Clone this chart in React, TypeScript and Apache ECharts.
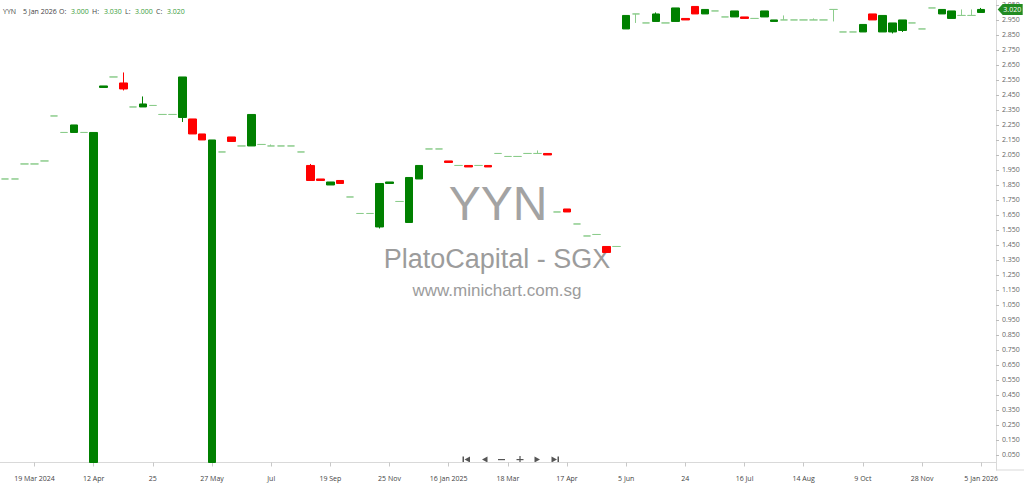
import { useEffect, useRef } from 'react';
import * as echarts from 'echarts';

// trading days (the stock trades rarely, so the axis only holds days with a trade)
const dates = [
  '2024-03-05', '2024-03-08', '2024-03-13', '2024-03-19', '2024-03-21', '2024-03-26', '2024-04-01', '2024-04-04', '2024-04-09', '2024-04-12',
  '2024-04-15', '2024-04-17', '2024-04-19', '2024-04-22', '2024-04-23', '2024-04-25', '2024-04-30', '2024-05-06', '2024-05-10', '2024-05-15',
  '2024-05-21', '2024-05-27', '2024-05-30', '2024-06-05', '2024-06-11', '2024-06-18', '2024-06-25', '2024-07-01', '2024-07-15', '2024-07-31',
  '2024-08-15', '2024-08-28', '2024-09-05', '2024-09-19', '2024-09-30', '2024-10-09', '2024-10-21', '2024-11-01', '2024-11-13', '2024-11-25',
  '2024-12-04', '2024-12-13', '2024-12-23', '2025-01-02', '2025-01-09', '2025-01-16', '2025-01-24', '2025-02-05', '2025-02-17', '2025-02-27',
  '2025-03-07', '2025-03-18', '2025-03-24', '2025-03-28', '2025-04-03', '2025-04-09', '2025-04-14', '2025-04-17', '2025-04-24', '2025-05-02',
  '2025-05-13', '2025-05-22', '2025-05-29', '2025-06-05', '2025-06-09', '2025-06-11', '2025-06-13', '2025-06-17', '2025-06-20', '2025-06-24',
  '2025-06-26', '2025-06-30', '2025-07-03', '2025-07-08', '2025-07-11', '2025-07-16', '2025-07-21', '2025-07-25', '2025-07-30', '2025-08-04',
  '2025-08-07', '2025-08-14', '2025-08-22', '2025-09-01', '2025-09-10', '2025-09-19', '2025-09-29', '2025-10-09', '2025-10-16', '2025-10-24',
  '2025-11-03', '2025-11-12', '2025-11-20', '2025-11-28', '2025-12-05', '2025-12-12', '2025-12-18', '2025-12-24', '2025-12-31', '2026-01-05',
];

const opens = [
  1.89, 1.89, 1.99, 1.99, 2.01, 2.31, 2.20, 2.20, 2.20, 0,
  2.50, 2.57, 2.53, 2.37, 2.37, 2.38, 2.32, 2.32, 2.30, 2.29,
  2.19, 0, 2.07, 2.17, 2.11, 2.11, 2.12, 2.11, 2.11, 2.11,
  2.07, 1.98, 1.89, 1.85, 1.88, 1.77, 1.66, 1.66, 1.57, 1.86,
  1.74, 1.60, 1.89, 2.09, 2.09, 2.01, 1.98, 1.98, 1.98, 1.98,
  2.06, 2.04, 2.04, 2.06, 2.06, 2.06, 1.67, 1.69, 1.59, 1.51,
  1.52, 1.44, 1.44, 2.89, 2.99, 2.93, 2.94, 2.93, 2.94, 2.96,
  3.04, 2.99, 3.01, 2.97, 2.97, 2.97, 2.96, 2.97, 2.94, 2.95,
  2.95, 2.95, 2.95, 2.95, 3.02, 2.87, 2.87, 2.87, 2.99, 2.87,
  2.87, 2.88, 2.93, 2.89, 3.03, 2.99, 2.96, 2.98, 2.98, 3.00,
];
const closes = [
  1.89, 1.89, 1.99, 1.99, 2.01, 2.31, 2.20, 2.25, 2.20, 2.20,
  2.51, 2.57, 2.49, 2.37, 2.39, 2.38, 2.32, 2.32, 2.57, 2.19,
  2.15, 2.15, 2.07, 2.14, 2.11, 2.32, 2.12, 2.11, 2.11, 2.11,
  2.07, 1.88, 1.88, 1.87, 1.86, 1.77, 1.66, 1.66, 1.86, 1.87,
  1.74, 1.90, 1.98, 2.09, 2.09, 2.00, 1.98, 1.97, 1.98, 1.97,
  2.06, 2.04, 2.04, 2.06, 2.06, 2.05, 1.67, 1.67, 1.59, 1.51,
  1.52, 1.40, 1.44, 2.98, 2.99, 2.93, 2.99, 2.93, 3.03, 2.95,
  2.99, 3.02, 3.01, 2.97, 3.01, 2.96, 2.96, 3.01, 2.95, 2.95,
  2.95, 2.95, 2.95, 2.95, 3.02, 2.87, 2.87, 2.92, 2.95, 2.98,
  2.93, 2.95, 2.93, 2.89, 3.03, 3.02, 3.01, 2.98, 2.98, 3.02,
];
const lows = [
  1.89, 1.89, 1.99, 1.99, 2.01, 2.31, 2.20, 2.20, 2.20, 0,
  2.50, 2.57, 2.48, 2.37, 2.37, 2.38, 2.32, 2.32, 2.27, 2.19,
  2.15, 0, 2.07, 2.14, 2.11, 2.11, 2.12, 2.11, 2.11, 2.11,
  2.07, 1.88, 1.88, 1.85, 1.86, 1.77, 1.66, 1.66, 1.56, 1.86,
  1.74, 1.60, 1.89, 2.09, 2.09, 2.00, 1.98, 1.97, 1.98, 1.97,
  2.06, 2.04, 2.04, 2.06, 2.06, 2.05, 1.67, 1.67, 1.59, 1.51,
  1.52, 1.40, 1.44, 2.89, 2.93, 2.93, 2.94, 2.93, 2.94, 2.95,
  2.99, 2.99, 3.01, 2.97, 2.97, 2.96, 2.96, 2.97, 2.94, 2.95,
  2.95, 2.95, 2.95, 2.95, 2.94, 2.87, 2.87, 2.87, 2.95, 2.87,
  2.86, 2.87, 2.93, 2.89, 3.03, 2.99, 2.96, 2.98, 2.98, 3.00,
];
const highs = [
  1.89, 1.89, 1.99, 1.99, 2.01, 2.31, 2.20, 2.25, 2.20, 2.20,
  2.51, 2.57, 2.60, 2.37, 2.44, 2.38, 2.32, 2.32, 2.57, 2.29,
  2.19, 2.15, 2.07, 2.17, 2.11, 2.32, 2.12, 2.12, 2.11, 2.11,
  2.07, 1.99, 1.89, 1.87, 1.88, 1.77, 1.66, 1.66, 1.86, 1.87,
  1.74, 1.90, 1.98, 2.09, 2.09, 2.01, 1.98, 1.98, 1.98, 1.98,
  2.06, 2.04, 2.04, 2.06, 2.08, 2.06, 1.67, 1.69, 1.59, 1.51,
  1.52, 1.44, 1.44, 2.98, 2.99, 2.93, 3.00, 2.93, 3.03, 2.96,
  3.04, 3.02, 3.01, 2.97, 3.01, 2.97, 2.96, 3.01, 2.95, 2.98,
  2.95, 2.95, 2.96, 2.95, 3.02, 2.87, 2.87, 2.92, 2.99, 2.98,
  2.93, 2.95, 2.93, 2.89, 3.03, 3.02, 3.01, 3.02, 3.02, 3.03,
];

// dates that get a label on the time axis
const tickLabels: Record<string, string> = {
  '2024-03-19': '19 Mar 2024',
  '2024-04-12': '12 Apr',
  '2024-04-25': '25',
  '2024-05-27': '27 May',
  '2024-07-01': 'Jul',
  '2024-09-19': '19 Sep',
  '2024-11-25': '25 Nov',
  '2025-01-16': '16 Jan 2025',
  '2025-03-18': '18 Mar',
  '2025-04-17': '17 Apr',
  '2025-06-05': '5 Jun',
  '2025-06-24': '24',
  '2025-07-16': '16 Jul',
  '2025-08-14': '14 Aug',
  '2025-10-09': '9 Oct',
  '2025-11-28': '28 Nov',
  '2026-01-05': '5 Jan 2026',
};

const ticker = 'YYN';
const exchange = 'PlatoCapital - SGX';
const site = 'www.minichart.com.sg';

const UP = '#008000';
const DOWN = '#ff0000';
const DOJI = '#8ccc8c';
const SMALL = '"Open Sans", "Noto Sans", sans-serif';
const WATERMARK = '"Liberation Sans", Arial, sans-serif';

export default function App() {
  const chartRef = useRef<HTMLDivElement>(null);

  useEffect(() => {
    const chart = echarts.init(chartRef.current, null, { renderer: 'svg' });
    const last = closes.length - 1;
    const candles = opens.map((o, i) => [o, closes[i], lows[i], highs[i]]);
    // one empty slot after the last session
    const categories = [...dates, ''];
    const showTick = (_i: number, v: string) => v in tickLabels;

    const header: [string, number, string][] = [
      [ticker, 3, '#444'],
      [tickLabels[dates[last]] ?? dates[last], 23, '#444'],
      ['O:', 59, '#444'],
      [opens[last].toFixed(3), 71, '#3a9d3a'],
      ['H:', 92, '#444'],
      [highs[last].toFixed(3), 104, '#3a9d3a'],
      ['L:', 125, '#444'],
      [lows[last].toFixed(3), 135, '#3a9d3a'],
      ['C:', 156, '#444'],
      [closes[last].toFixed(3), 167, '#3a9d3a'],
    ];

    const nav = { fill: '#555' };

    const option = {
      animation: false,
      backgroundColor: '#fff',
      textStyle: { fontFamily: SMALL },
      grid: { left: 0, right: 28, top: 0, bottom: 14 },
      xAxis: {
        type: 'category',
        data: categories,
        boundaryGap: true,
        axisLine: { show: true, lineStyle: { color: '#d9d9d9' } },
        axisTick: { show: true, alignWithLabel: true, interval: showTick, length: 4, lineStyle: { color: '#c8c8c8' } },
        axisLabel: {
          interval: showTick,
          formatter: (v: string) => tickLabels[v] ?? '',
          fontSize: 7,
          color: '#444',
          margin: 5,
        },
        splitLine: { show: false },
      },
      yAxis: {
        type: 'value',
        position: 'right',
        min: -0.05,
        max: 3.083,
        interval: 0.1,
        axisLine: { show: true, lineStyle: { color: '#d9d9d9' } },
        axisTick: { show: true, length: 3, lineStyle: { color: '#bbb' } },
        axisLabel: {
          fontSize: 7,
          color: '#666',
          margin: 6,
          showMinLabel: false,
          showMaxLabel: false,
          formatter: (v: number) => v.toFixed(3),
        },
        splitLine: { show: false },
      },
      graphic: [
        {
          type: 'text', x: 498, y: 203, z: 0,
          style: { text: ticker, fill: '#a3a3a3', fontSize: 48, fontFamily: WATERMARK, align: 'center', verticalAlign: 'middle' },
        },
        {
          type: 'text', x: 497, y: 259, z: 0,
          style: { text: exchange, fill: '#9c9c9c', fontSize: 27, fontFamily: WATERMARK, align: 'center', verticalAlign: 'middle' },
        },
        {
          type: 'text', x: 497, y: 290, z: 0,
          style: { text: site, fill: '#9c9c9c', fontSize: 17, fontFamily: WATERMARK, align: 'center', verticalAlign: 'middle' },
        },
        ...header.map(([text, x, fill]) => ({
          type: 'text', x, y: 11,
          style: { text, fill, fontSize: 7, fontFamily: SMALL, verticalAlign: 'middle' },
        })),
        // time axis line runs on under the price scale
        { type: 'line', shape: { x1: 996, y1: 470, x2: 1024, y2: 470 }, style: { stroke: '#d9d9d9', lineWidth: 1 } },
        // navigation buttons
        { type: 'rect', shape: { x: 462.5, y: 456.5, width: 1.5, height: 6 }, style: nav },
        { type: 'polygon', shape: { points: [[470, 456.5], [470, 462.5], [464.5, 459.5]] }, style: nav },
        { type: 'polygon', shape: { points: [[487.5, 456.5], [487.5, 462.5], [482, 459.5]] }, style: nav },
        { type: 'rect', shape: { x: 498, y: 459, width: 7, height: 1.2 }, style: nav },
        { type: 'rect', shape: { x: 516.5, y: 459, width: 7, height: 1.2 }, style: nav },
        { type: 'rect', shape: { x: 519.4, y: 456, width: 1.2, height: 7 }, style: nav },
        { type: 'polygon', shape: { points: [[534.5, 456.5], [534.5, 462.5], [540, 459.5]] }, style: nav },
        { type: 'polygon', shape: { points: [[551.5, 456.5], [551.5, 462.5], [557, 459.5]] }, style: nav },
        { type: 'rect', shape: { x: 557.5, y: 456.5, width: 1.5, height: 6 }, style: nav },
      ],
      series: [
        {
          type: 'candlestick',
          data: candles,
          barWidth: 8,
          itemStyle: {
            color: UP,
            color0: DOWN,
            borderColor: UP,
            borderColor0: DOWN,
            borderColorDoji: DOJI,
            borderWidth: 1,
          },
          markPoint: {
            silent: true,
            symbol: 'path://M0,6L6,0L30,0L30,12L6,12Z',
            symbolSize: [25, 11],
            symbolOffset: [29, 0],
            itemStyle: { color: '#228b22' },
            label: {
              show: true,
              formatter: closes[last].toFixed(3),
              color: '#fff',
              fontSize: 7,
              fontFamily: SMALL,
              offset: [2, 0],
            },
            data: [{ coord: [last, closes[last]], value: closes[last] }],
          },
        },
      ],
    };

    chart.setOption(option);
    return () => {
      chart.dispose();
    };
  }, []);

  return <div ref={chartRef} style={{ position: 'fixed', left: 0, top: 0, width: 1024, height: 484 }} />;
}
